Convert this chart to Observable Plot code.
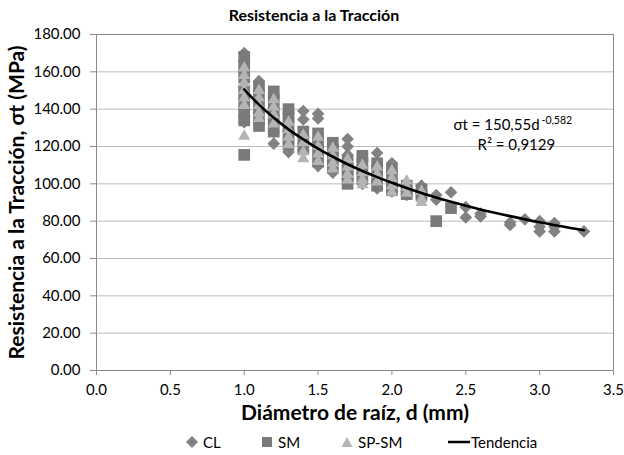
<!DOCTYPE html>
<html><head><meta charset="utf-8">
<script src="https://cdn.jsdelivr.net/npm/d3@7"></script>
<script src="https://cdn.jsdelivr.net/npm/@observablehq/plot@0.6"></script>
<style>
body{margin:0;background:#fff;font-family:Lato,"Open Sans",sans-serif;}
#wrap{position:relative;width:624px;height:455px;overflow:hidden;}
#title{height:24px;line-height:30px;text-align:center;font-weight:bold;font-size:16px;padding-left:4px;}
#chart svg{display:block;}
#legend{position:relative;height:25px;font-size:15px;}
.li{position:absolute;top:3px;display:flex;align-items:center;gap:5px;}
</style></head>
<body><div id="wrap"><div id="title">Resistencia a la Tracción</div><div id="chart"></div><div id="legend"></div></div>
<script>
// CL (diamonds)
const clD = [1.0,1.0,1.0,1.0,1.0,1.0,1.0,1.0, 1.1,1.1,1.1,1.1,1.1, 1.2,1.2,1.2,1.2,1.2, 1.3,1.3,1.3,1.3, 1.4,1.4,1.4,1.4, 1.5,1.5,1.5,1.5,1.5, 1.6,1.6,1.6, 1.7,1.7,1.7,1.7,1.7, 1.8,1.8,1.8, 1.9,1.9,1.9,1.9, 2.0,2.0,2.0,2.0, 2.1,2.1, 2.2,2.2,2.2, 2.3,2.3, 2.4, 2.5,2.5, 2.6,2.6, 2.8,2.8, 2.9, 3.0,3.0,3.0, 3.1,3.1,3.1, 3.3];
const clS = [170,166,160,152,145,140,136,133, 155,150,144,138,132, 146,140,133,128,121.5, 135,128,122,117, 139,134.5,125,118, 137.5,135,123,115,109.5, 120,112,106, 124,120,115.5,108,103, 112,106,100, 116.5,110,104,97.5, 111,106,101,96, 96,94, 99,95.5,93, 94,91.5, 95.5, 87.5,82, 84,82.5, 79.3,78, 81, 80,77,74.5, 79,77,74.5, 74.5];
// SM (squares)
const smD = [1.0,1.0,1.0,1.0,1.0,1.0,1.0,1.0, 1.1,1.1,1.1,1.1,1.1, 1.2,1.2,1.2,1.2,1.2, 1.3,1.3,1.3,1.3,1.3, 1.4,1.4,1.4, 1.5,1.5,1.5,1.5, 1.6,1.6,1.6,1.6, 1.7,1.7,1.7,1.7, 1.8,1.8,1.8,1.8, 1.9,1.9,1.9,1.9, 2.0,2.0,2.0,2.0, 2.1,2.1,2.1, 2.2,2.2, 2.3, 2.4];
const smS = [168,163,157,150,144,138,134,115.5, 152,147,141,135,131, 149.5,145,139,134,128, 140,136,131,126,121, 128,123,119, 127,122,117,112, 122,118,114,109, 112,108,104,100, 115,111,107,103, 111,107,103,99, 108,104,100,96.5, 99,96,94.5, 97,94, 80, 87];
// SP-SM (triangles)
const spD = [1.0,1.0,1.0,1.0,1.0,1.0,1.0, 1.1,1.1,1.1,1.1,1.1, 1.2,1.2,1.2,1.2, 1.3,1.3,1.3,1.3, 1.4,1.4,1.4,1.4, 1.5,1.5,1.5,1.5, 1.6,1.6,1.6,1.6, 1.7,1.7,1.7,1.7, 1.8,1.8,1.8,1.8, 1.9,1.9,1.9, 2.0,2.0,2.0,2.0, 2.1,2.1,2.1, 2.2,2.2,2.2];
const spS = [162,158,154,150,146,142,125.5, 150,146,142,138,135, 145,141,137,132, 133,129,125,121, 126,122,117,113.5, 125,120,116,112, 119,115,111,108, 113,109,105,102, 110,106,102,99.5, 109,105,101, 107,103,99,95.5, 101.5,98,95, 96,92,90];
// Tendencia (trend curve)
const trendD = [1.0,1.1,1.2,1.3,1.4,1.5,1.6,1.7,1.8,1.9,2.0,2.2,2.4,2.6,2.8,3.0,3.2,3.3];
const trendS = [150.6,142.4,135.4,129.2,123.8,118.9,114.5,110.5,106.9,103.6,100.6,95.1,90.4,86.3,82.7,79.4,76.5,75.1];
// axis ticks and texts
const xTicks = [0,0.5,1.0,1.5,2.0,2.5,3.0,3.5];
const yTicks = [0,20,40,60,80,100,120,140,160,180];
const seriesNames = ["CL","SM","SP-SM","Tendencia"];
const eqMain = "σt = 150,55d";
const eqExp = "-0,582";
const eqR2 = "R² = 0,9129";
const xTitle = "Diámetro de raíz, d (mm)";
const yTitle = "Resistencia a la Tracción, σt (MPa)";

const zip = (a, b) => a.map((d, i) => ({d, s: b[i]}));
const cl = zip(clD, clS), sm = zip(smD, smS), sp = zip(spD, spS), trend = zip(trendD, trendS);

const chart = Plot.plot({
  width: 624, height: 406,
  marginTop: 10, marginBottom: 60, marginLeft: 96, marginRight: 11,
  style: {fontFamily: "Lato, 'Open Sans', sans-serif", fontSize: "15px", color: "#000", background: "#fff", overflow: "visible"},
  x: {domain: [0, 3.5], label: null},
  y: {domain: [0, 180], label: null},
  marks: [
    Plot.gridY(yTicks, {stroke: "#bdbdbd", strokeOpacity: 1, strokeWidth: 1}),
    Plot.frame({stroke: "#8a8a8a", strokeWidth: 1}),
    Plot.axisY(yTicks, {tickFormat: d3.format(".2f"), tickSize: 6, tickPadding: 10, stroke: "#8a8a8a", label: null, fill: "#000"}),
    Plot.axisX(xTicks, {tickFormat: d3.format(".1f"), tickSize: 5, tickPadding: 9, stroke: "#8a8a8a", label: null, fill: "#000"}),
    Plot.dot(cl, {x: "d", y: "s", symbol: "diamond2", r: 5.7, fill: "#828282", stroke: "none"}),
    Plot.dot(sm, {x: "d", y: "s", symbol: "square", r: 6.6, fill: "#7a7a7a", stroke: "none"}),
    Plot.dot(sp, {x: "d", y: "s", symbol: "triangle", r: 4.5, fill: "#b4b4b4", stroke: "none"}),
    Plot.line(trend, {x: "d", y: "s", curve: "natural", stroke: "#000", strokeWidth: 2.6}),
    Plot.text([eqMain], {frameAnchor: "top-left", dx: 357, dy: 91, textAnchor: "start", lineAnchor: "middle", fontSize: 15, fill: "#000"}),
    Plot.text([eqExp], {frameAnchor: "top-left", dx: 445, dy: 86, textAnchor: "start", lineAnchor: "middle", fontSize: 10.5, fill: "#000"}),
    Plot.text([eqR2], {frameAnchor: "top-left", dx: 381, dy: 111, textAnchor: "start", lineAnchor: "middle", fontSize: 15, fill: "#000"}),
    Plot.text([xTitle], {frameAnchor: "bottom", dy: 43, textAnchor: "middle", lineAnchor: "middle", fontSize: 21, fontWeight: "bold", fill: "#000"}),
    Plot.text([yTitle], {frameAnchor: "left", dx: -79, rotate: -90, textAnchor: "middle", lineAnchor: "middle", fontSize: 21, fontWeight: "bold", fill: "#000"})
  ]
});
document.getElementById("chart").append(chart);

// legend
const leg = document.getElementById("legend");
const items = [
  {name: seriesNames[0], left: 186, svg: '<svg width="12" height="12"><path d="M6,0L12,6L6,12L0,6Z" fill="#828282"/></svg>'},
  {name: seriesNames[1], left: 261, svg: '<svg width="12" height="12"><rect x="1" y="1" width="10" height="10" fill="#7a7a7a"/></svg>'},
  {name: seriesNames[2], left: 341, svg: '<svg width="12" height="12"><path d="M6,1L11.5,11L0.5,11Z" fill="#b4b4b4"/></svg>'},
  {name: seriesNames[3], left: 448, svg: '<svg width="22" height="12"><line x1="0" y1="6" x2="22" y2="6" stroke="#000" stroke-width="2.5"/></svg>', gap: 0}
];
for (const it of items) {
  const el = document.createElement("div");
  el.className = "li";
  el.style.left = it.left + "px";
  if (it.gap === 0) el.style.gap = "1px";
  el.innerHTML = it.svg + "<span>" + it.name + "</span>";
  leg.append(el);
}
</script>
</body></html>
